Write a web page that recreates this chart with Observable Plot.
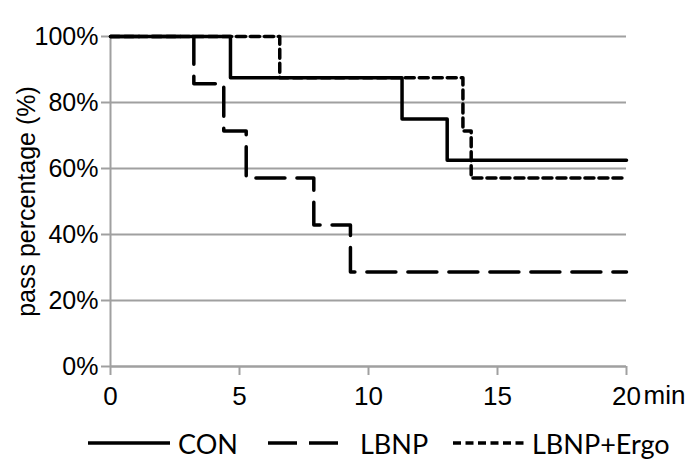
<!DOCTYPE html>
<html>
<head>
<meta charset="utf-8">
<script src="https://cdn.jsdelivr.net/npm/d3@7"></script>
<script src="https://cdn.jsdelivr.net/npm/@observablehq/plot@0.6"></script>
<style>
  html, body { margin: 0; padding: 0; background: #fff; }
  #chart { width: 700px; }
  #legend { width: 700px; height: 51px; }
</style>
</head>
<body>
<div id="chart"></div>
<div id="legend"></div>
<script>
// ---- data ----
const conTime   = [0, 4.65, 11.3, 13.05, 20];
const conValue  = [100, 87.5, 75, 62.5, 62.5];

const lbnpTime  = [0, 3.23, 4.39, 5.26, 7.88, 9.3, 20];
const lbnpValue = [100, 85.7, 71.4, 57.1, 42.9, 28.6, 28.6];

const ergoTime  = [0, 6.56, 13.66, 13.98, 20];
const ergoValue = [100, 87.5, 71.4, 57.1, 57.1];

const xTicks = [0, 5, 10, 15, 20];
const yTicks = [0, 20, 40, 60, 80, 100];
const seriesNames = ["CON", "LBNP", "LBNP+Ergo"];

const toRows = (t, v) => t.map((d, i) => ({t: d, v: v[i]}));
const con = toRows(conTime, conValue);
const lbnp = toRows(lbnpTime, lbnpValue);
const ergo = toRows(ergoTime, ergoValue);

const grey = "#a0a0a0";
const lw = 3.5;

const plot = Plot.plot({
  width: 700,
  height: 420,
  marginTop: 36,
  marginBottom: 54,
  marginLeft: 110,
  marginRight: 74,
  style: {fontFamily: "'Liberation Sans', Arial, sans-serif", background: "#fff", color: "#000"},
  x: {domain: [0, 20]},
  y: {domain: [0, 100]},
  marks: [
    Plot.gridY(yTicks, {stroke: grey, strokeOpacity: 1, strokeWidth: 2}),
    Plot.ruleX([0], {stroke: grey, strokeWidth: 2}),
    Plot.ruleY([0], {stroke: grey, strokeWidth: 2}),
    Plot.axisY({ticks: yTicks, tickSize: 9, tickPadding: 3, stroke: grey, strokeWidth: 2, fill: "#000",
      tickFormat: d => d + "%", fontSize: 25, label: null}),
    Plot.axisX({ticks: xTicks, tickSize: 9, tickPadding: 11, stroke: grey, strokeWidth: 2, fill: "#000",
      fontSize: 26, label: null}),
    Plot.text(["min"], {x: d => 20, y: d => 0, dx: 17, dy: 29, textAnchor: "start", fontSize: 26, fill: "#000"}),
    Plot.text(["pass percentage (%)"], {frameAnchor: "left", textAnchor: "middle", rotate: -90, dx: -84, fontSize: 25, fill: "#000"}),
    Plot.line(ergo, {x: "t", y: "v", curve: "step-after", stroke: "#000", strokeWidth: lw, strokeDasharray: "9,5"}),
    Plot.line(lbnp, {x: "t", y: "v", curve: "step-after", stroke: "#000", strokeWidth: lw, strokeDasharray: "29,12"}),
    Plot.line(con, {x: "t", y: "v", curve: "step-after", stroke: "#000", strokeWidth: lw})
  ]
});
document.getElementById("chart").appendChild(plot);

// ---- legend ----
const legendItems = [
  {name: seriesNames[0], x1: 88, x2: 170, dash: null, tx: 178},
  {name: seriesNames[1], x1: 268, x2: 338, dash: "29,12", tx: 360},
  {name: seriesNames[2], x1: 453, x2: 525, dash: "8,4.5", tx: 532}
];
const lg = d3.select("#legend").append("svg").attr("width", 700).attr("height", 51);
const g = lg.selectAll("g").data(legendItems).join("g");
g.append("line")
  .attr("x1", d => d.x1).attr("x2", d => d.x2)
  .attr("y1", 23).attr("y2", 23)
  .attr("stroke", "#000").attr("stroke-width", lw)
  .attr("stroke-dasharray", d => d.dash);
g.append("text")
  .attr("x", d => d.tx).attr("y", 34)
  .attr("font-family", "Lato, 'Open Sans', sans-serif")
  .attr("font-size", 27)
  .attr("fill", "#000")
  .text(d => d.name);
</script>
</body>
</html>
